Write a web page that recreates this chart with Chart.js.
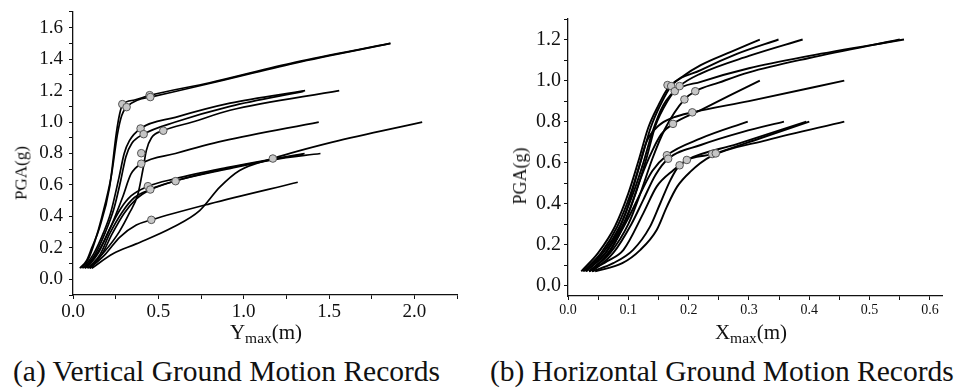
<!DOCTYPE html>
<html>
<head>
<meta charset="utf-8">
<script src="https://cdn.jsdelivr.net/npm/chart.js@4.4.1/dist/chart.umd.min.js"></script>
<style>
  body { margin: 0; background: #fff; }
  #wrap { position: relative; width: 966px; height: 388px; overflow: hidden;
          font-family: "Liberation Serif", "Times New Roman", serif; color: #111; }
  canvas { position: absolute; top: 0; }
  #chartA { left: 0; }
  #chartB { left: 480px; }
  .lbl { position: absolute; white-space: nowrap; line-height: 1; }
  .ytitle { transform: translate(-50%, -50%) rotate(-90deg); }
  .xtitle { transform: translateX(-50%); font-size: 21px; }
  .xtitle .sub { font-size: 15.5px; position: relative; top: 4px; }
  .cap { font-size: 29.5px; }
</style>
</head>
<body>
<div id="wrap">
  <canvas id="chartA" width="480" height="345"></canvas>
  <canvas id="chartB" width="486" height="345"></canvas>

  <div class="lbl ytitle" style="left:21px;top:173px;font-size:17px;">PGA(g)</div>
  <div class="lbl ytitle" style="left:520px;top:176px;font-size:18px;">PGA(g)</div>
  <div class="lbl xtitle" style="left:266px;top:322px;">Y<span class="sub">max</span>(m)</div>
  <div class="lbl xtitle" style="left:751px;top:322px;">X<span class="sub">max</span>(m)</div>
  <div class="lbl cap" style="left:13px;top:357px;">(a) Vertical Ground Motion Records</div>
  <div class="lbl cap" style="left:490px;top:357px;">(b) Horizontal Ground Motion Records</div>
</div>

<script>
// ---- (a) vertical records: Ymax (m) vs PGA (g), one array per record ----
const vertA1 = [[0.04,0.07],[0.08,0.12],[0.11,0.2],[0.156,0.33],[0.215,0.59],[0.254,0.93],[0.273,1.05],[0.29,1.11],[0.36,1.14],[0.45,1.17],[0.8,1.25],[1.3,1.38],[1.86,1.5]];
const vertA2 = [[0.05,0.07],[0.09,0.13],[0.125,0.23],[0.17,0.4],[0.225,0.66],[0.26,0.92],[0.285,1.04],[0.314,1.095],[0.38,1.14],[0.46,1.16],[0.8,1.245],[1.3,1.375],[1.86,1.5]];
const vertB1 = [[0.06,0.07],[0.12,0.16],[0.18,0.3],[0.22,0.42],[0.27,0.65],[0.3,0.8],[0.33,0.88],[0.396,0.959],[0.6,1.03],[0.92,1.12],[1.36,1.2]];
const vertB2 = [[0.07,0.07],[0.13,0.16],[0.19,0.3],[0.24,0.45],[0.28,0.63],[0.31,0.78],[0.345,0.865],[0.414,0.923],[0.6,1.0],[0.92,1.1],[1.35,1.195]];
const vertB3 = [[0.09,0.07],[0.18,0.17],[0.27,0.3],[0.33,0.42],[0.38,0.54],[0.41,0.7],[0.43,0.82],[0.46,0.9],[0.531,0.946],[0.7,1.0],[0.92,1.075],[1.56,1.2]];
const vertC  = [[0.07,0.07],[0.15,0.18],[0.22,0.33],[0.29,0.52],[0.34,0.67],[0.4,0.735],[0.6,0.8],[0.88,0.88],[1.44,1.0]];
const vertD1 = [[0.08,0.07],[0.15,0.17],[0.215,0.32],[0.28,0.45],[0.34,0.53],[0.436,0.59],[0.6,0.64],[0.9,0.71],[1.17,0.765],[1.357,0.8]];
const vertD2 = [[0.09,0.07],[0.16,0.16],[0.215,0.29],[0.29,0.43],[0.36,0.52],[0.455,0.571],[0.6,0.625],[0.9,0.7],[1.17,0.76],[1.45,0.8]];
const vertD3 = [[0.1,0.07],[0.17,0.16],[0.23,0.29],[0.3,0.42],[0.37,0.51],[0.46,0.575],[0.6,0.626],[0.9,0.705],[1.17,0.762],[1.35,0.795]];
const vertE  = [[0.1,0.07],[0.19,0.16],[0.273,0.267],[0.371,0.345],[0.459,0.378],[0.8,0.48],[1.317,0.617]];
const vertF  = [[0.11,0.07],[0.234,0.162],[0.37,0.225],[0.585,0.331],[0.742,0.437],[0.86,0.586],[0.976,0.692],[1.171,0.768],[1.52,0.872],[2.046,1.0]];
const vertMarks = [[0.289,1.114],[0.314,1.095],[0.449,1.171],[0.453,1.159],[0.396,0.959],[0.414,0.923],[0.529,0.945],
                   [0.4,0.802],[0.4,0.735],[0.439,0.592],[0.453,0.571],[0.601,0.624],[0.459,0.378],[1.171,0.768]];
const vertXLabels = [0.0, 0.5, 1.0, 1.5, 2.0];
const vertYLabels = [0.0, 0.2, 0.4, 0.6, 0.8, 1.0, 1.2, 1.4, 1.6];

// ---- (b) horizontal records: Xmax (m) vs PGA (g) ----
const horH1 = [[0.022,0.07],[0.05,0.16],[0.078,0.29],[0.1,0.45],[0.117,0.61],[0.133,0.77],[0.15,0.88],[0.165,0.96],[0.19,1.02],[0.22,1.075],[0.27,1.14],[0.318,1.2]];
const horH2 = [[0.025,0.07],[0.055,0.16],[0.082,0.29],[0.104,0.45],[0.121,0.61],[0.137,0.77],[0.153,0.88],[0.171,0.973],[0.22,1.051],[0.28,1.13],[0.349,1.2]];
const horH3 = [[0.027,0.07],[0.058,0.16],[0.086,0.29],[0.108,0.45],[0.125,0.6],[0.14,0.75],[0.158,0.88],[0.185,0.973],[0.22,1.034],[0.3,1.12],[0.389,1.2]];
const horH4 = [[0.03,0.07],[0.062,0.16],[0.09,0.29],[0.112,0.45],[0.13,0.62],[0.145,0.78],[0.165,0.9],[0.177,0.948],[0.22,0.994],[0.3,1.06],[0.4,1.12],[0.557,1.2]];
const horH5 = [[0.035,0.07],[0.07,0.16],[0.1,0.3],[0.12,0.45],[0.14,0.62],[0.16,0.76],[0.193,0.908],[0.211,0.948],[0.25,0.99],[0.3,1.04],[0.4,1.11],[0.55,1.2]];
const horI1 = [[0.035,0.07],[0.07,0.17],[0.1,0.35],[0.12,0.52],[0.14,0.66],[0.155,0.74],[0.174,0.789],[0.22,0.856],[0.27,0.93],[0.318,1.0]];
const horI2 = [[0.03,0.07],[0.065,0.17],[0.095,0.35],[0.115,0.55],[0.13,0.7],[0.15,0.78],[0.175,0.82],[0.206,0.845],[0.3,0.9],[0.458,1.0]];
const horJ1 = [[0.04,0.07],[0.07,0.175],[0.1,0.33],[0.12,0.45],[0.14,0.56],[0.164,0.636],[0.22,0.718],[0.298,0.8]];
const horJ2 = [[0.04,0.07],[0.075,0.16],[0.105,0.3],[0.125,0.42],[0.145,0.54],[0.166,0.619],[0.22,0.686],[0.29,0.75],[0.358,0.8]];
const horJ3 = [[0.035,0.07],[0.065,0.12],[0.092,0.175],[0.125,0.354],[0.147,0.483],[0.175,0.564],[0.197,0.613],[0.28,0.69],[0.395,0.8]];
const horJ4 = [[0.04,0.07],[0.075,0.11],[0.108,0.175],[0.136,0.288],[0.153,0.402],[0.17,0.516],[0.185,0.587],[0.245,0.645],[0.32,0.72],[0.4,0.8]];
const horJ5 = [[0.045,0.07],[0.09,0.11],[0.12,0.175],[0.147,0.272],[0.164,0.386],[0.181,0.483],[0.203,0.556],[0.236,0.629],[0.33,0.71],[0.458,0.8]];
const horMarks = [[0.165,0.978],[0.171,0.973],[0.177,0.948],[0.185,0.973],[0.211,0.948],[0.193,0.908],[0.206,0.845],
                  [0.174,0.789],[0.164,0.636],[0.166,0.619],[0.185,0.587],[0.197,0.613],[0.239,0.642],[0.245,0.645]];
const horXLabels = [0.0, 0.1, 0.2, 0.3, 0.4, 0.5, 0.6];
const horYLabels = [0.0, 0.2, 0.4, 0.6, 0.8, 1.0, 1.2];

const vertCurves = [vertA1, vertA2, vertB1, vertB2, vertB3, vertC, vertD1, vertD2, vertD3, vertE, vertF];
const horCurves = [horH1, horH2, horH3, horH4, horH5, horI1, horI2, horJ1, horJ2, horJ3, horJ4, horJ5];

const FONT = "'Liberation Serif', 'Times New Roman', serif";
const INK = "#111";

// major ticks carry labels, one unlabelled minor tick halfway between them
const withMinor = (labels, lo, hi) => {
  const step = labels[1] - labels[0];
  const out = [];
  for (let k = -2; k <= labels.length * 2 + 2; k++) {
    const v = labels[0] + (k * step) / 2;
    if (v >= lo - 1e-9 && v <= hi + 1e-9) out.push(v);
  }
  return out;
};
const isLabel = (labels) => (v) =>
  labels.some((m) => Math.abs(m - v) < 1e-9) ? v.toFixed(1) : "";

const noPad = (s) => { s.paddingTop = 0; s.paddingBottom = 0; s.paddingLeft = 0; s.paddingRight = 0; };

const buildDatasets = (curves, marks, lineWidth) => {
  const sets = curves.map((c) => ({
    data: c.map(([x, y]) => ({ x, y })),
    showLine: true,
    borderColor: "#000",
    borderWidth: lineWidth,
    pointRadius: 0,
    cubicInterpolationMode: "monotone",
    order: 1,
  }));
  sets.push({
    data: marks.map(([x, y]) => ({ x, y })),
    showLine: false,
    pointRadius: 3.8,
    backgroundColor: "#c6c6c6",
    borderColor: "#555",
    borderWidth: 1,
    order: 0,
  });
  return sets;
};

const makeChart = (id, cfg) => {
  const xTicks = withMinor(cfg.xLabels, cfg.xMin, cfg.xMax);
  const yTicks = withMinor(cfg.yLabels, cfg.yMin, cfg.yMax);
  new Chart(document.getElementById(id), {
    type: "scatter",
    data: { datasets: buildDatasets(cfg.curves, cfg.marks, cfg.lineWidth) },
    options: {
      responsive: false,
      animation: false,
      layout: { padding: cfg.padding },
      plugins: { legend: { display: false }, tooltip: { enabled: false } },
      scales: {
        x: {
          type: "linear",
          min: cfg.xMin, max: cfg.xMax,
          afterBuildTicks: (s) => { s.ticks = xTicks.map((v) => ({ value: v })); },
          afterFit: (s) => { s.height = cfg.xHeight; noPad(s); },
          border: { color: INK, width: 1.3 },
          grid: { drawOnChartArea: false, tickLength: 4, color: INK, tickWidth: 1 },
          ticks: {
            autoSkip: false, maxRotation: 0, padding: 2, color: INK,
            font: { family: FONT, size: cfg.xFont },
            callback: isLabel(cfg.xLabels),
          },
        },
        y: {
          type: "linear",
          min: cfg.yMin, max: cfg.yMax,
          afterBuildTicks: (s) => { s.ticks = yTicks.map((v) => ({ value: v })); },
          afterFit: (s) => { s.width = cfg.yWidth; noPad(s); },
          border: { color: INK, width: 1.3 },
          grid: { drawOnChartArea: false, tickLength: 4, color: INK, tickWidth: 1 },
          ticks: {
            autoSkip: false, padding: cfg.yPad, color: INK,
            font: { family: FONT, size: cfg.yFont },
            callback: isLabel(cfg.yLabels),
          },
        },
      },
    },
  });
};

makeChart("chartA", {
  curves: vertCurves, marks: vertMarks, lineWidth: 1.7,
  padding: { left: 0, right: 23, top: 12, bottom: 0 },
  xMin: 0, xMax: 2.25, xLabels: vertXLabels, xFont: 19, xHeight: 50,
  yMin: -0.1, yMax: 1.7, yLabels: vertYLabels, yFont: 19, yWidth: 73, yPad: 6,
});

makeChart("chartB", {
  curves: horCurves, marks: horMarks, lineWidth: 1.9,
  padding: { left: 0, right: 24, top: 19, bottom: 0 },
  xMin: 0, xMax: 0.62, xLabels: horXLabels, xFont: 14, xHeight: 49,
  yMin: -0.05, yMax: 1.3, yLabels: horYLabels, yFont: 20, yWidth: 88, yPad: 3,
});
</script>
</body>
</html>
